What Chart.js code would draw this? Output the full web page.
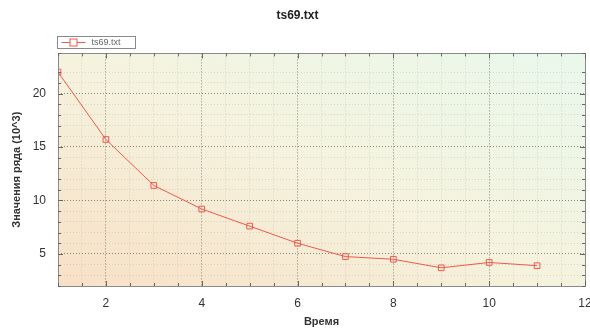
<!DOCTYPE html>
<html>
<head>
<meta charset="utf-8">
<script src="https://cdn.jsdelivr.net/npm/chart.js@4/dist/chart.umd.min.js"></script>
<style>
  html, body { margin: 0; padding: 0; background: #fff; }
  #chart { display: block; }
</style>
</head>
<body>
<canvas id="chart" width="590" height="329"></canvas>
<script>
// ряд ts69.txt: время -> значение (10^3)
const TIME = [1, 2, 3, 4, 5, 6, 7, 8, 9, 10, 11]
const VALUES = [22.0, 15.7, 11.4, 9.2, 7.6, 6.0, 4.75, 4.5, 3.7, 4.2, 3.9]
const X_LABELS = [2, 4, 6, 8, 10, 12]
const Y_LABELS = [5, 10, 15, 20]

const RED = '#ec5a4e'
const FONT = '"Liberation Sans", Arial, sans-serif'

// фон области графика: персиковый снизу слева -> мятный сверху справа
const bgPlugin = {
  id: 'bg',
  beforeDraw(chart) {
    const { ctx, chartArea: a } = chart
    const w = a.right - a.left, h = a.bottom - a.top
    // направление (h, -w): верх-лево и низ-право получают один оттенок
    const k = 2 * w * h / (w * w + h * h)
    const g = ctx.createLinearGradient(a.left, a.bottom, a.left + h * k, a.bottom - w * k)
    g.addColorStop(0, '#f8e0c6')
    g.addColorStop(0.5, '#f5f3de')
    g.addColorStop(1, '#e9f8ec')
    ctx.save()
    ctx.fillStyle = g
    ctx.fillRect(a.left, a.top, w, h)
    ctx.restore()
  },
}

// рамка, внутренние засечки и легенда
const framePlugin = {
  id: 'frame',
  afterDraw(chart) {
    const { ctx, chartArea: a, scales } = chart
    ctx.save()
    ctx.strokeStyle = '#8a8a8a'
    ctx.lineWidth = 1
    ctx.strokeRect(Math.round(a.left) + 0.5, Math.round(a.top) + 0.5,
      Math.round(a.right - a.left), Math.round(a.bottom - a.top))

    ctx.strokeStyle = '#666'
    ctx.beginPath()
    scales.x.ticks.forEach(t => {
      const px = Math.round(scales.x.getPixelForValue(t.value)) + 0.5
      const len = t.value % 2 === 0 ? 5 : 3
      ctx.moveTo(px, a.bottom); ctx.lineTo(px, a.bottom - len)
      ctx.moveTo(px, a.top); ctx.lineTo(px, a.top + len)
    })
    scales.y.ticks.forEach(t => {
      const py = Math.round(scales.y.getPixelForValue(t.value)) + 0.5
      const len = t.value % 5 === 0 ? 5 : 3
      ctx.moveTo(a.left, py); ctx.lineTo(a.left + len, py)
      ctx.moveTo(a.right, py); ctx.lineTo(a.right - len, py)
    })
    ctx.stroke()

    // легенда
    const lx = 57.5, ly = 36.5
    ctx.fillStyle = '#fff'
    ctx.fillRect(lx, ly, 78, 12)
    ctx.strokeStyle = '#8a8a8a'
    ctx.strokeRect(lx, ly, 78, 12)
    ctx.strokeStyle = RED
    ctx.beginPath()
    ctx.moveTo(lx + 4, ly + 6); ctx.lineTo(lx + 28, ly + 6)
    ctx.stroke()
    ctx.fillStyle = '#fff'
    ctx.fillRect(lx + 12.5, ly + 2.5, 7, 7)
    ctx.strokeRect(lx + 12.5, ly + 2.5, 7, 7)
    ctx.fillStyle = '#666'
    ctx.font = `9px ${FONT}`
    ctx.textBaseline = 'middle'
    ctx.fillText('ts69.txt', lx + 34, ly + 6.5)
    ctx.restore()
  },
}

new Chart(document.getElementById('chart'), {
  type: 'line',
  data: {
    datasets: [{
      label: 'ts69.txt',
      data: TIME.map((t, i) => ({ x: t, y: VALUES[i] })),
      borderColor: RED,
      borderWidth: 1,
      backgroundColor: 'rgba(0,0,0,0)',
      pointStyle: 'rect',
      pointRadius: 4,
      pointBorderColor: RED,
      pointBackgroundColor: 'rgba(255,255,255,0)',
      pointBorderWidth: 1,
      tension: 0,
    }],
  },
  options: {
    responsive: false,
    animation: false,
    layout: { padding: { left: 10, right: 5, top: 0, bottom: 0 } },
    plugins: {
      legend: { display: false },
      tooltip: { enabled: false },
      title: {
        display: true,
        text: 'ts69.txt',
        color: '#222',
        font: { family: FONT, size: 12, weight: 'bold' },
        padding: { top: 8, bottom: 31 },
      },
    },
    scales: {
      x: {
        type: 'linear',
        min: 1,
        max: 12,
        afterFit: s => { s.height = 43; s.paddingRight = 0; s.paddingLeft = 0 },
        ticks: {
          stepSize: 0.5,
          autoSkip: false,
          maxRotation: 0,
          padding: 10,
          color: '#333',
          font: { family: FONT, size: 12 },
          callback: v => X_LABELS.includes(v) ? String(v) : '',
        },
        grid: {
          drawTicks: false,
          color: c => c.tick && c.tick.value % 2 === 0 ? 'rgba(90,90,90,0.7)' : 'rgba(150,150,150,0.3)',
        },
        border: { display: false, dash: [1, 2] },
        title: {
          display: true,
          text: 'Время',
          color: '#333',
          font: { family: FONT, size: 11, weight: 'bold' },
          padding: { top: 0, bottom: 0 },
        },
      },
      y: {
        min: 2,
        max: 23.75,
        afterFit: s => { s.width = 48 },
        ticks: {
          stepSize: 1,
          autoSkip: false,
          padding: 12,
          color: '#333',
          font: { family: FONT, size: 12 },
          callback: v => Y_LABELS.includes(v) ? String(v) : '',
        },
        grid: {
          drawTicks: false,
          color: c => c.tick && c.tick.value % 5 === 0 ? 'rgba(90,90,90,0.7)' : 'rgba(150,150,150,0.3)',
        },
        border: { display: false, dash: [1, 2] },
        title: {
          display: true,
          text: 'Значения ряда (10^3)',
          color: '#333',
          font: { family: FONT, size: 11, weight: 'bold' },
          padding: { top: 0, bottom: 0 },
        },
      },
    },
  },
  plugins: [bgPlugin, framePlugin],
})
</script>
</body>
</html>
